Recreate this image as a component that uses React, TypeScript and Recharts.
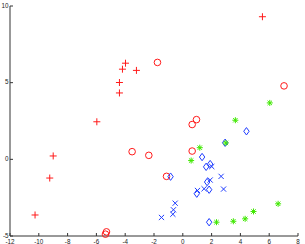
import { ScatterChart, Scatter, XAxis, YAxis } from "recharts";

const xTicks = [-12, -10, -8, -6, -4, -2, 0, 2, 4, 6, 8];
const yTicks = [-5, 0, 5, 10];

const redPlus = [
  { x: -5.97, y: 2.45 }, { x: -3.98, y: 6.27 }, { x: -4.19, y: 5.88 }, { x: -3.22, y: 5.8 },
  { x: -4.4, y: 5.01 }, { x: -4.4, y: 4.33 }, { x: 5.53, y: 9.3 }, { x: -9.0, y: 0.22 },
  { x: -9.24, y: -1.22 }, { x: -10.26, y: -3.63 },
];
const redCircle = [
  { x: -1.76, y: 6.32 }, { x: 7.03, y: 4.79 }, { x: -3.52, y: 0.5 }, { x: -2.36, y: 0.26 },
  { x: -5.3, y: -4.73 }, { x: -5.37, y: -4.88 }, { x: 0.95, y: 2.59 }, { x: 0.65, y: 2.27 },
  { x: 0.65, y: 0.54 }, { x: -1.13, y: -1.11 },
];
const greenStar = [
  { x: 6.04, y: 3.68 }, { x: 3.65, y: 2.55 }, { x: 1.18, y: 0.76 }, { x: 0.58, y: -0.08 },
  { x: 2.99, y: 1.07 }, { x: 6.62, y: -2.9 }, { x: 4.91, y: -3.4 }, { x: 4.33, y: -3.88 },
  { x: 3.51, y: -4.04 }, { x: 2.34, y: -4.1 },
];
const blueDiamond = [
  { x: 4.42, y: 1.83 }, { x: 2.94, y: 1.08 }, { x: 1.34, y: 0.15 }, { x: 1.9, y: -0.31 },
  { x: 1.62, y: -0.49 }, { x: -0.85, y: -1.13 }, { x: 1.69, y: -1.48 }, { x: 0.97, y: -2.24 },
  { x: 1.83, y: -1.98 }, { x: 1.83, y: -4.1 },
];
const blueCross = [
  { x: 2.01, y: -0.47 }, { x: 2.66, y: -1.11 }, { x: 1.9, y: -1.35 }, { x: 2.83, y: -1.94 },
  { x: 1.48, y: -1.92 }, { x: 1.02, y: -2.03 }, { x: -0.53, y: -2.86 }, { x: -0.65, y: -3.29 },
  { x: -0.69, y: -3.58 }, { x: -1.48, y: -3.79 },
];

const RED = "#ff1a1a";
const BLUE = "#1f3dff";
const GREEN = "#3fe800";
const AXIS = "#333";
const FONT = "Liberation Sans, Arial, sans-serif";

const plus = (color: string) => (p: any) => (
  <g stroke={color} strokeWidth={1}>
    <line x1={p.cx - 3.5} x2={p.cx + 3.5} y1={p.cy} y2={p.cy} />
    <line x1={p.cx} x2={p.cx} y1={p.cy - 3.5} y2={p.cy + 3.5} />
  </g>
);
const circle = (color: string) => (p: any) => (
  <circle cx={p.cx} cy={p.cy} r={3.3} fill="none" stroke={color} strokeWidth={1} />
);
const cross = (color: string) => (p: any) => (
  <g stroke={color} strokeWidth={1}>
    <line x1={p.cx - 2.6} x2={p.cx + 2.6} y1={p.cy - 2.6} y2={p.cy + 2.6} />
    <line x1={p.cx - 2.6} x2={p.cx + 2.6} y1={p.cy + 2.6} y2={p.cy - 2.6} />
  </g>
);
const diamond = (color: string) => (p: any) => (
  <path
    d={`M${p.cx},${p.cy - 3.7}L${p.cx + 2.7},${p.cy}L${p.cx},${p.cy + 3.7}L${p.cx - 2.7},${p.cy}Z`}
    fill="none"
    stroke={color}
    strokeWidth={1}
  />
);
const star = (color: string) => (p: any) => (
  <g stroke={color} strokeWidth={1}>
    <line x1={p.cx - 3} x2={p.cx + 3} y1={p.cy} y2={p.cy} />
    <line x1={p.cx} x2={p.cx} y1={p.cy - 3} y2={p.cy + 3} />
    <line x1={p.cx - 2.2} x2={p.cx + 2.2} y1={p.cy - 2.2} y2={p.cy + 2.2} />
    <line x1={p.cx - 2.2} x2={p.cx + 2.2} y1={p.cy + 2.2} y2={p.cy - 2.2} />
  </g>
);

const BottomTick = ({ x, y, payload }: any) => (
  <g>
    <line x1={x} x2={x} y1={y} y2={y - 3} stroke={AXIS} />
    <text x={x} y={y + 7.8} textAnchor="middle" fontSize={6.3} fontFamily={FONT} fill="#222">
      {payload.value}
    </text>
  </g>
);
const TopTick = ({ x, y }: any) => <line x1={x} x2={x} y1={y} y2={y + 3} stroke={AXIS} />;
const LeftTick = ({ x, y, payload }: any) => (
  <g>
    <line x1={x} x2={x + 3} y1={y} y2={y} stroke={AXIS} />
    <text x={x - 1.5} y={y + 1.8} textAnchor="end" fontSize={6.3} fontFamily={FONT} fill="#222">
      {payload.value}
    </text>
  </g>
);
const RightTick = ({ x, y }: any) => <line x1={x} x2={x - 3} y1={y} y2={y} stroke={AXIS} />;

export default function App() {
  return (
    <div style={{ position: "absolute", left: 0, top: 0, background: "#fff" }}>
      <ScatterChart width={305} height={244} margin={{ top: 6, right: 7, bottom: 0, left: 0 }}>
        <XAxis
          type="number" dataKey="x" domain={[-12, 8]} ticks={xTicks} height={8} interval={0}
          axisLine={{ stroke: AXIS }} tickLine={false} tickSize={0} tickMargin={0} tick={<BottomTick />}
        />
        <XAxis
          xAxisId="top" orientation="top" type="number" dataKey="x" domain={[-12, 8]} ticks={xTicks} height={0} interval={0}
          axisLine={{ stroke: AXIS }} tickLine={false} tickSize={0} tickMargin={0} tick={<TopTick />}
        />
        <YAxis
          type="number" dataKey="y" domain={[-5, 10]} ticks={yTicks} width={10} interval={0}
          axisLine={{ stroke: AXIS }} tickLine={false} tickSize={0} tickMargin={0} tick={<LeftTick />}
        />
        <YAxis
          yAxisId="right" orientation="right" type="number" dataKey="y" domain={[-5, 10]} ticks={yTicks} width={0} interval={0}
          axisLine={{ stroke: AXIS }} tickLine={false} tickSize={0} tickMargin={0} tick={<RightTick />}
        />
        <Scatter data={redPlus} shape={plus(RED)} isAnimationActive={false} />
        <Scatter data={redCircle} shape={circle(RED)} isAnimationActive={false} />
        <Scatter data={blueCross} shape={cross(BLUE)} isAnimationActive={false} />
        <Scatter data={blueDiamond} shape={diamond(BLUE)} isAnimationActive={false} />
        <Scatter data={greenStar} shape={star(GREEN)} isAnimationActive={false} />
        <Scatter xAxisId="top" yAxisId="right" data={[]} isAnimationActive={false} />
      </ScatterChart>
    </div>
  );
}
